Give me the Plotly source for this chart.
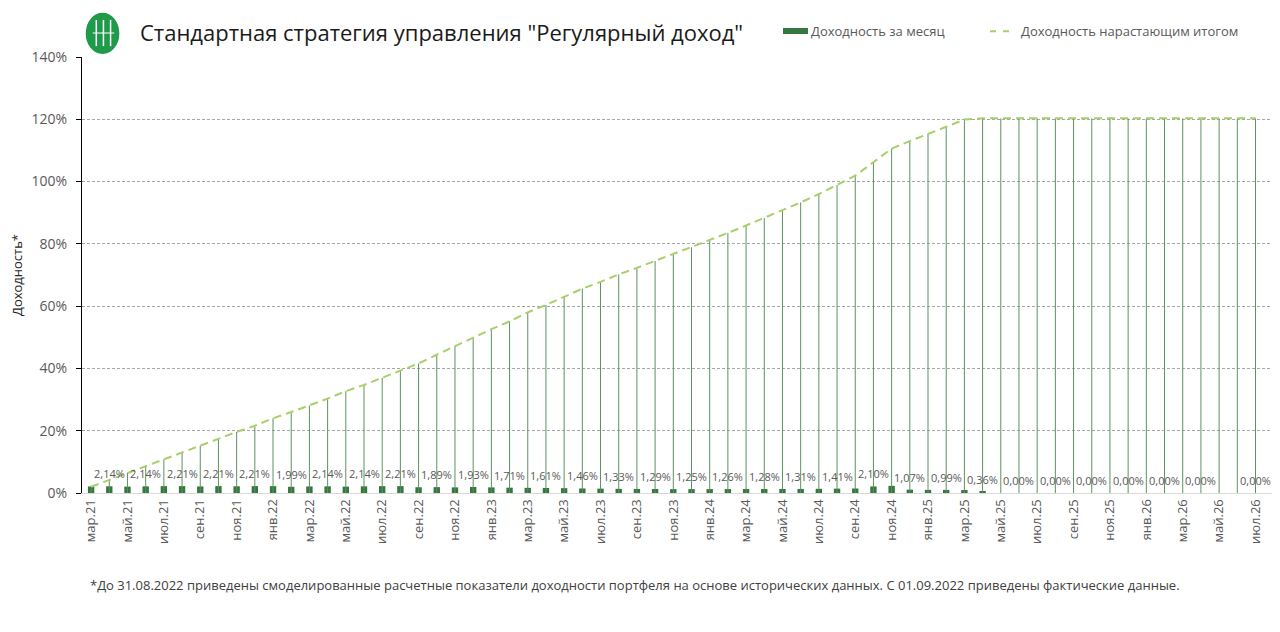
import plotly.graph_objects as go

# месяцы с мар.21 по июл.26
month_names = ["янв", "фев", "мар", "апр", "май", "июн", "июл", "авг", "сен", "окт", "ноя", "дек"]
months = []
for yy in range(21, 27):
    for mm in month_names:
        months.append(f"{mm}.{yy}")
months = months[2:-5]  # мар.21 ... июл.26

# доходность за месяц, %
monthly = [
    2.10, 2.14, 2.05, 2.14, 2.20, 2.21, 2.10, 2.21, 2.15, 2.21,   # мар.21 - дек.21
    2.20, 1.99, 2.10, 2.14, 2.05, 2.14, 2.20, 2.21, 1.85, 1.89,   # янв.22 - окт.22
    1.80, 1.93, 1.80, 1.71, 1.65, 1.61, 1.55, 1.46, 1.40, 1.33,   # ноя.22 - авг.23
    1.30, 1.29, 1.25, 1.25, 1.25, 1.26, 1.27, 1.28, 1.30, 1.31,   # сен.23 - июн.24
    1.35, 1.41, 1.45, 2.10, 2.30, 1.07, 1.00, 0.99, 0.95, 0.36,   # июл.24 - апр.25
    0.00, 0.00, 0.00, 0.00, 0.00, 0.00, 0.00, 0.00, 0.00, 0.00,   # май.25 - фев.26
    0.00, 0.00, 0.00, 0.00, 0.00,                                 # мар.26 - июл.26
]

# доходность нарастающим итогом, %
cumulative = [
    2.0, 4.2, 6.5, 8.8, 10.8, 13.2, 15.2, 17.4, 19.6, 21.6,
    24.0, 26.0, 28.1, 30.3, 32.7, 34.7, 37.0, 39.2, 41.6, 44.4,
    47.2, 49.8, 52.6, 55.1, 58.0, 60.4, 63.1, 65.6, 67.8, 70.2,
    72.3, 74.5, 76.7, 78.9, 81.2, 83.5, 85.9, 88.3, 90.8, 93.3,
    96.0, 98.9, 101.9, 106.2, 110.6, 113.0, 115.4, 117.6, 119.9, 120.3,
    120.3, 120.3, 120.3, 120.3, 120.3, 120.3, 120.3, 120.3, 120.3, 120.3,
    120.3, 120.3, 120.3, 120.3, 120.3,
]

# подписи видны не у всех столбцов
label_idx = list(range(1, 62, 2)) + [64]

y_ticks = [0, 20, 40, 60, 80, 100, 120, 140]

title_text = 'Стандартная стратегия управления "Регулярный доход"'
legend_bar = "Доходность за месяц"
legend_line = "Доходность нарастающим итогом"
footnote = ("*До 31.08.2022 приведены смоделированные расчетные показатели доходности портфеля "
            "на основе исторических данных. С 01.09.2022 приведены фактические данные.")

FONT = "Open Sans"
GREEN = "#36763f"
LINE_GREEN = "#a8cf6a"
GRAY = "#595959"

# вертикальные линии от нуля до накопленной доходности
drop_x, drop_y = [], []
for m, c in zip(months, cumulative):
    drop_x += [m, m, None]
    drop_y += [0, c, None]

fig = go.Figure()
fig.add_trace(go.Bar(
    x=months, y=monthly,
    name=legend_bar,
    marker=dict(color=GREEN, line=dict(width=0)),
    width=0.35,
))
fig.add_trace(go.Scatter(
    x=drop_x, y=drop_y, mode="lines",
    line=dict(color="#5e9163", width=1),
    hoverinfo="skip",
))
fig.add_trace(go.Scatter(
    x=months, y=cumulative, mode="lines",
    name=legend_line,
    line=dict(color=LINE_GREEN, width=2, dash="8px,5px"),
))

for i in label_idx:
    fig.add_annotation(
        x=months[i], y=monthly[i],
        text=f"{monthly[i]:.2f}".replace(".", ",") + "%",
        showarrow=False, yanchor="bottom", yshift=3,
        font=dict(family=FONT, size=11, color=GRAY),
    )

fig.add_annotation(
    x=0.005, y=-0.211, xref="paper", yref="paper",
    text=footnote, showarrow=False, xanchor="left", yanchor="middle",
    font=dict(family=FONT, size=13, color="#404040"),
)
fig.add_annotation(
    x=0.047, y=1.058, xref="paper", yref="paper",
    text=title_text, showarrow=False, xanchor="left", yanchor="middle",
    font=dict(family=FONT, size=22, color="#1a1a1a"),
)

# легенда вручную, чтобы не сдвигать поля
fig.add_shape(type="rect", xref="paper", yref="paper",
              x0=0.5886, x1=0.6096, y0=1.0528, y1=1.0665,
              fillcolor=GREEN, line=dict(width=0))
fig.add_annotation(
    x=0.6105, y=1.060, xref="paper", yref="paper",
    text=legend_bar, showarrow=False, xanchor="left", yanchor="middle",
    font=dict(family=FONT, size=13, color=GRAY),
)
fig.add_shape(type="line", xref="paper", yref="paper",
              x0=0.7624, x1=0.7800, y0=1.0590, y1=1.0590,
              line=dict(color=LINE_GREEN, width=2, dash="6px,7px"))
fig.add_annotation(
    x=0.7870, y=1.060, xref="paper", yref="paper",
    text=legend_line, showarrow=False, xanchor="left", yanchor="middle",
    font=dict(family=FONT, size=13, color=GRAY),
)

# логотип: зелёный круг с белым знаком
fig.add_shape(type="circle", xref="paper", yref="paper",
              x0=0.0025, x1=0.032, y0=1.005, y1=1.103,
              fillcolor="#1f9a4a", line=dict(color="white", width=1.5))
for px in [0.012, 0.018, 0.024]:
    fig.add_shape(type="line", xref="paper", yref="paper",
                  x0=px, x1=px, y0=1.025, y1=1.085,
                  line=dict(color="white", width=1.5))
fig.add_shape(type="line", xref="paper", yref="paper",
              x0=0.009, x1=0.027, y0=1.055, y1=1.055,
              line=dict(color="white", width=1))

# страница браузера добавляет отступ 8px, поэтому поля уменьшены на 8
fig.update_layout(
    width=1280, height=632,
    margin=dict(l=74, r=15, t=49, b=147),
    paper_bgcolor="white", plot_bgcolor="white",
    font=dict(family=FONT, color=GRAY),
    showlegend=False,
    xaxis=dict(
        type="category", automargin=False,
        tickmode="array", tickvals=months[::2], ticktext=months[::2],
        tickangle=-90, tickfont=dict(family=FONT, size=13, color=GRAY),
        showline=True, linecolor="#d9d9d9", linewidth=1,
        showgrid=False, ticks="", ticklen=0,
    ),
    yaxis=dict(
        range=[0, 140], automargin=False,
        tickmode="array", tickvals=y_ticks, ticktext=[f"{v}%" for v in y_ticks],
        tickfont=dict(family=FONT, size=14, color=GRAY),
        ticklabelstandoff=6,
        showline=True, linecolor="black", linewidth=1,
        ticks="outside", ticklen=5, tickcolor="black",
        showgrid=True, gridcolor="#a6a6a6", griddash="3px,2px", gridwidth=1,
        zeroline=False,
        title=dict(text="Доходность*", font=dict(family=FONT, size=13, color="#262626"), standoff=10),
    ),
)

fig.write_html("out.html")
